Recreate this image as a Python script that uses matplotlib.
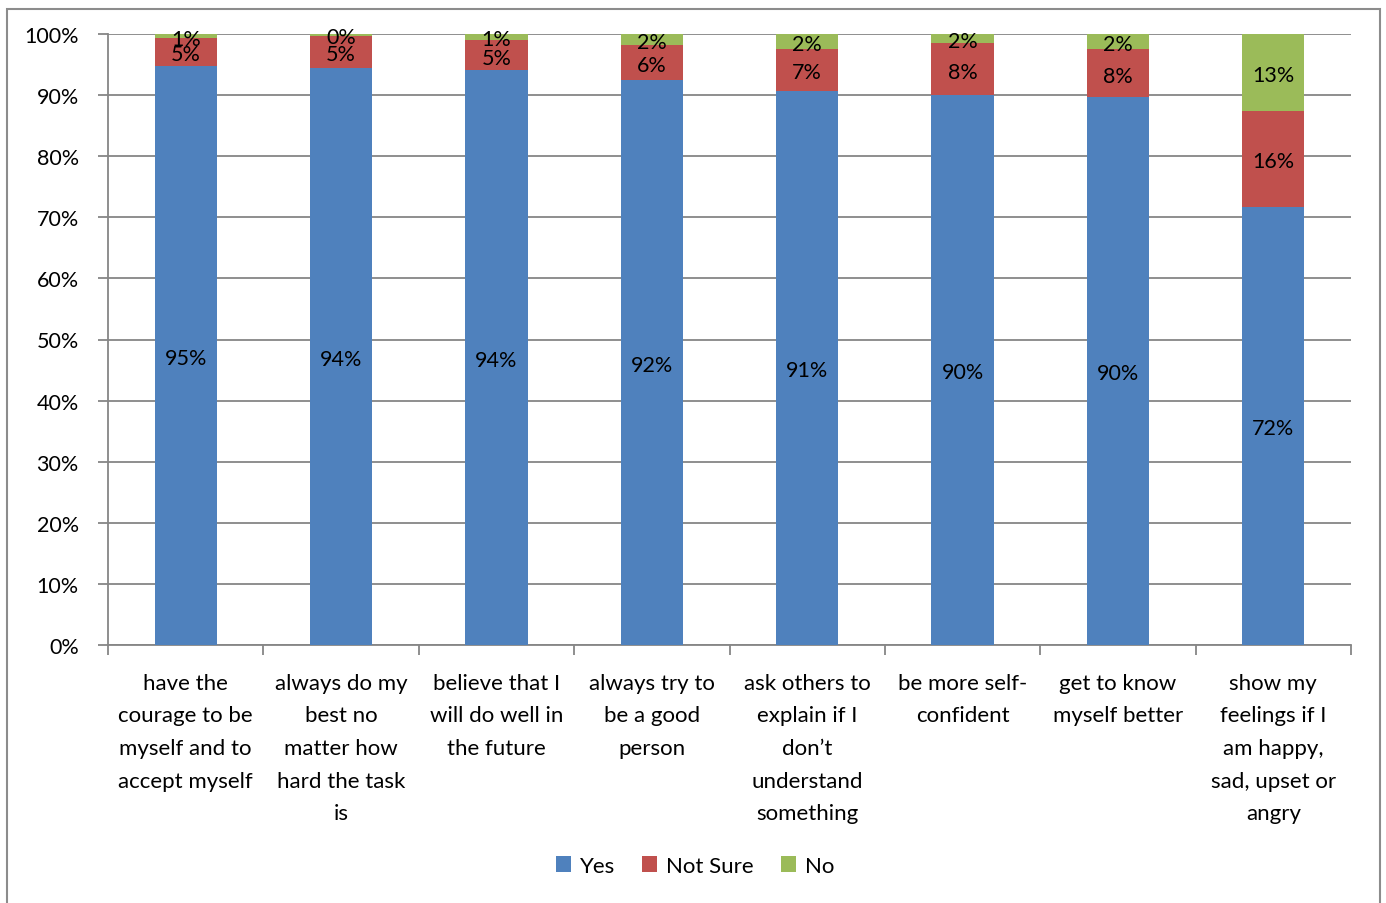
import matplotlib
matplotlib.use('Agg')
import matplotlib.pyplot as plt
from matplotlib.patches import Rectangle
import numpy as np

plt.rcParams['font.family'] = ['Lato', 'DejaVu Sans']

# data (percent of answers)
categories = [
    "have the\ncourage to be\nmyself and to\naccept myself",
    "always do my\nbest no\nmatter how\nhard the task\nis",
    "believe that I\nwill do well in\nthe future",
    "always try to\nbe a good\nperson",
    "ask others to\nexplain if I\ndon\u2019t\nunderstand\nsomething",
    "be more self-\nconfident",
    "get to know\nmyself better",
    "show my\nfeelings if I\nam happy,\nsad, upset or\nangry",
]
yes = [94.8, 94.4, 94.1, 92.5, 90.7, 90.0, 89.7, 71.7]
not_sure = [4.5, 5.3, 4.9, 5.7, 6.8, 8.5, 7.8, 15.7]
no = [0.7, 0.3, 1.0, 1.8, 2.5, 1.5, 2.5, 12.6]
yes_lbl = [95, 94, 94, 92, 91, 90, 90, 72]
ns_lbl = [5, 5, 5, 6, 7, 8, 8, 16]
no_lbl = [1, 0, 1, 2, 2, 2, 2, 13]

series = [("Yes", yes, yes_lbl, '#4F81BD'),
          ("Not Sure", not_sure, ns_lbl, '#C0504D'),
          ("No", no, no_lbl, '#9BBB59')]

fig = plt.figure(figsize=(13.86, 9.04), dpi=100)
ax = fig.add_axes([108 / 1386, 1 - 646 / 904, (1351 - 108) / 1386, (646 - 35) / 904])

# outer chart border
fig.patches.append(Rectangle((7 / 1386, -0.01), (1380 - 7) / 1386, (899 - 5) / 904 + 0.01,
                             transform=fig.transFigure, fill=False,
                             edgecolor='#8C8C8C', linewidth=1.5))

x = np.arange(len(categories))
bottom = np.zeros(len(categories))
for name, vals, lbls, col in series:
    vals = np.array(vals)
    ax.bar(x, vals, 0.4, bottom=bottom, color=col, label=name, zorder=3)
    for xi, b, v, l in zip(x, bottom, vals, lbls):
        ax.text(xi, b + v / 2 - 0.4, f"{l}%", ha='center', va='center',
                fontsize=15.5, color='black', zorder=4)
    bottom += vals

ax.set_xlim(-0.5, len(categories) - 0.5)
ax.set_ylim(0, 100)
ax.set_yticks(np.arange(0, 101, 10))
ax.set_yticklabels([f"{v}%" for v in range(0, 101, 10)], fontsize=15.5)
ax.yaxis.grid(True, color='#868686', linewidth=1.3, zorder=0)

ax.set_xticks(x)
ax.set_xticklabels(categories, fontsize=16, linespacing=1.79, va='top')
ax.tick_params(axis='x', which='major', length=0, pad=20)
ax.set_xticks(np.arange(-0.5, len(categories), 1), minor=True)
ax.tick_params(axis='x', which='minor', length=7, color='#868686', width=1.3)
ax.tick_params(axis='y', length=7, color='#868686', width=1.3, pad=14)

for side in ['top', 'right']:
    ax.spines[side].set_visible(False)
for side in ['left', 'bottom']:
    ax.spines[side].set_color('#868686')
    ax.spines[side].set_linewidth(1.3)

fig.legend(loc='center', bbox_to_anchor=(695 / 1386, 1 - 867 / 904), ncol=3,
           frameon=False, fontsize=16, handlelength=0.7, handleheight=0.7,
           handletextpad=0.4, columnspacing=1.2)

fig.savefig('out.png', dpi=100)
